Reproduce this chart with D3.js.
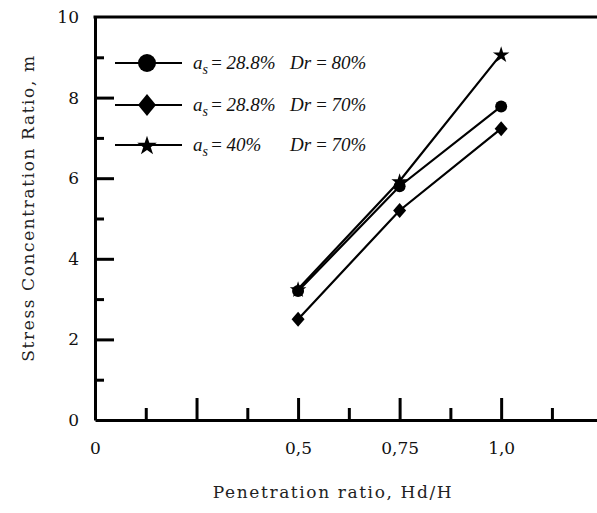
<!DOCTYPE html>
<html>
<head>
<meta charset="utf-8">
<script src="https://cdn.jsdelivr.net/npm/d3@7"></script>
<style>
  html, body { margin: 0; padding: 0; background: #fff; }
  svg { display: block; }
  .tick text { font-family: "DejaVu Serif", serif; font-size: 17px; fill: #111; }
</style>
</head>
<body>
<div id="chart"></div>
<script>
// values
const penetration = [0.5, 0.75, 1.0];
const mCircle = [3.2, 5.8, 7.78];    // a_s = 28.8 %, Dr = 80 %
const mDiamond = [2.5, 5.2, 7.23];   // a_s = 28.8 %, Dr = 70 %
const mStar = [3.25, 5.93, 9.08];    // a_s = 40 %,   Dr = 70 %

const seriesNames = ['circle', 'diamond', 'star'];
const seriesAs = ['28.8%', '28.8%', '40%'];
const seriesDr = ['80%', '70%', '70%'];

const xMajor = [0, 0.25, 0.5, 0.75, 1.0];
const xMinor = [0.125, 0.375, 0.625, 0.875, 1.125];
const xLabels = { 0: '0', 0.5: '0,5', 0.75: '0,75', 1: '1,0' };
const yMajor = [0, 2, 4, 6, 8, 10];
const yMinor = [1, 3, 5, 7, 9];

const width = 597, height = 513;
const svg = d3.select('#chart').append('svg')
  .attr('width', width).attr('height', height);

const x = d3.scaleLinear().domain([0, 1.236]).range([95, 597]);
const y = d3.scaleLinear().domain([0, 10]).range([420, 17]);

// symbols
const diamondPath = (w, h) => `M0,${-h}L${w},0L0,${h}L${-w},0Z`;
function marker(g, kind, big) {
  if (kind === 'circle') {
    g.append('circle').attr('r', big ? 9 : 6).attr('fill', '#000');
  } else if (kind === 'diamond') {
    g.append('path').attr('d', big ? diamondPath(9, 11) : diamondPath(6.5, 7.5)).attr('fill', '#000');
  } else {
    g.append('path').attr('d', d3.symbol(d3.symbolStar, big ? 120 : 85)()).attr('fill', '#000')
      .attr('transform', 'translate(0,1)');
  }
}

// axes
const axisStyle = (g) => {
  g.select('.domain').attr('stroke', '#000').attr('stroke-width', 3);
  g.selectAll('.tick line').attr('stroke', '#000').attr('stroke-width', 3);
};

svg.append('g')
  .attr('transform', `translate(0,${y(0)})`)
  .call(d3.axisBottom(x).tickValues(xMajor).tickSizeInner(-22).tickSizeOuter(0)
    .tickPadding(22).tickFormat(d => xLabels[d] ?? ''))
  .call(axisStyle);

svg.append('g')
  .attr('transform', `translate(0,${y(0)})`)
  .call(d3.axisBottom(x).tickValues(xMinor).tickSizeInner(-12).tickSizeOuter(0).tickFormat(''))
  .call(axisStyle)
  .call(g => g.select('.domain').remove());

svg.append('g')
  .attr('transform', `translate(${x(0)},0)`)
  .call(d3.axisLeft(y).tickValues(yMajor).tickSizeInner(-19).tickSizeOuter(0)
    .tickPadding(16).tickFormat(d3.format('d')))
  .call(axisStyle)
  .call(g => g.selectAll('.tick').filter(d => d === 0 || d === 10).select('line').remove());

svg.append('g')
  .attr('transform', `translate(${x(0)},0)`)
  .call(d3.axisLeft(y).tickValues(yMinor).tickSizeInner(-9).tickSizeOuter(0).tickFormat(''))
  .call(axisStyle)
  .call(g => g.select('.domain').remove());

// top border line
svg.append('line')
  .attr('x1', x(0) - 1.5).attr('x2', x.range()[1])
  .attr('y1', y(10)).attr('y2', y(10))
  .attr('stroke', '#000').attr('stroke-width', 3);

// axis titles
svg.append('text')
  .attr('transform', `translate(34,${208}) rotate(-90)`)
  .attr('text-anchor', 'middle')
  .style('font-family', '"DejaVu Serif", serif').style('font-size', '17px')
  .style('letter-spacing', '1.6px').attr('fill', '#222')
  .text('Stress Concentration Ratio, m');

svg.append('text')
  .attr('x', 333).attr('y', 498)
  .attr('text-anchor', 'middle')
  .style('font-family', '"DejaVu Serif", serif').style('font-size', '17px')
  .style('letter-spacing', '1.6px').attr('fill', '#222')
  .text('Penetration ratio, Hd/H');

// data lines and markers
const series = [mCircle, mDiamond, mStar];
const line = d3.line().x((d, i) => x(penetration[i])).y(d => y(d));
series.forEach((vals, s) => {
  svg.append('path').datum(vals)
    .attr('d', line).attr('fill', 'none')
    .attr('stroke', '#000').attr('stroke-width', 2.2);
});
series.forEach((vals, s) => {
  vals.forEach((v, i) => {
    const g = svg.append('g').attr('transform', `translate(${x(penetration[i])},${y(v)})`);
    marker(g, seriesNames[s], false);
  });
});

// legend
const legendY = [63, 105, 145];
seriesNames.forEach((name, i) => {
  const ly = legendY[i];
  svg.append('line').attr('x1', 115).attr('x2', 182).attr('y1', ly).attr('y2', ly)
    .attr('stroke', '#000').attr('stroke-width', 2);
  const g = svg.append('g').attr('transform', `translate(147,${ly})`);
  marker(g, name, true);

  const t = svg.append('text').attr('x', 193).attr('y', ly + 6)
    .style('font-family', '"Liberation Serif", serif').style('font-style', 'italic')
    .style('font-size', '19px').attr('fill', '#111');
  t.append('tspan').text('a');
  t.append('tspan').attr('dy', 5).style('font-size', '14px').text('s');
  t.append('tspan').attr('dy', -5).attr('dx', 2).text('=\u2009' + seriesAs[i]);

  svg.append('text').attr('x', 290).attr('y', ly + 6)
    .style('font-family', '"Liberation Serif", serif').style('font-style', 'italic')
    .style('font-size', '19px').attr('fill', '#111')
    .text('Dr\u2009=\u2009' + seriesDr[i]);
});
</script>
</body>
</html>
